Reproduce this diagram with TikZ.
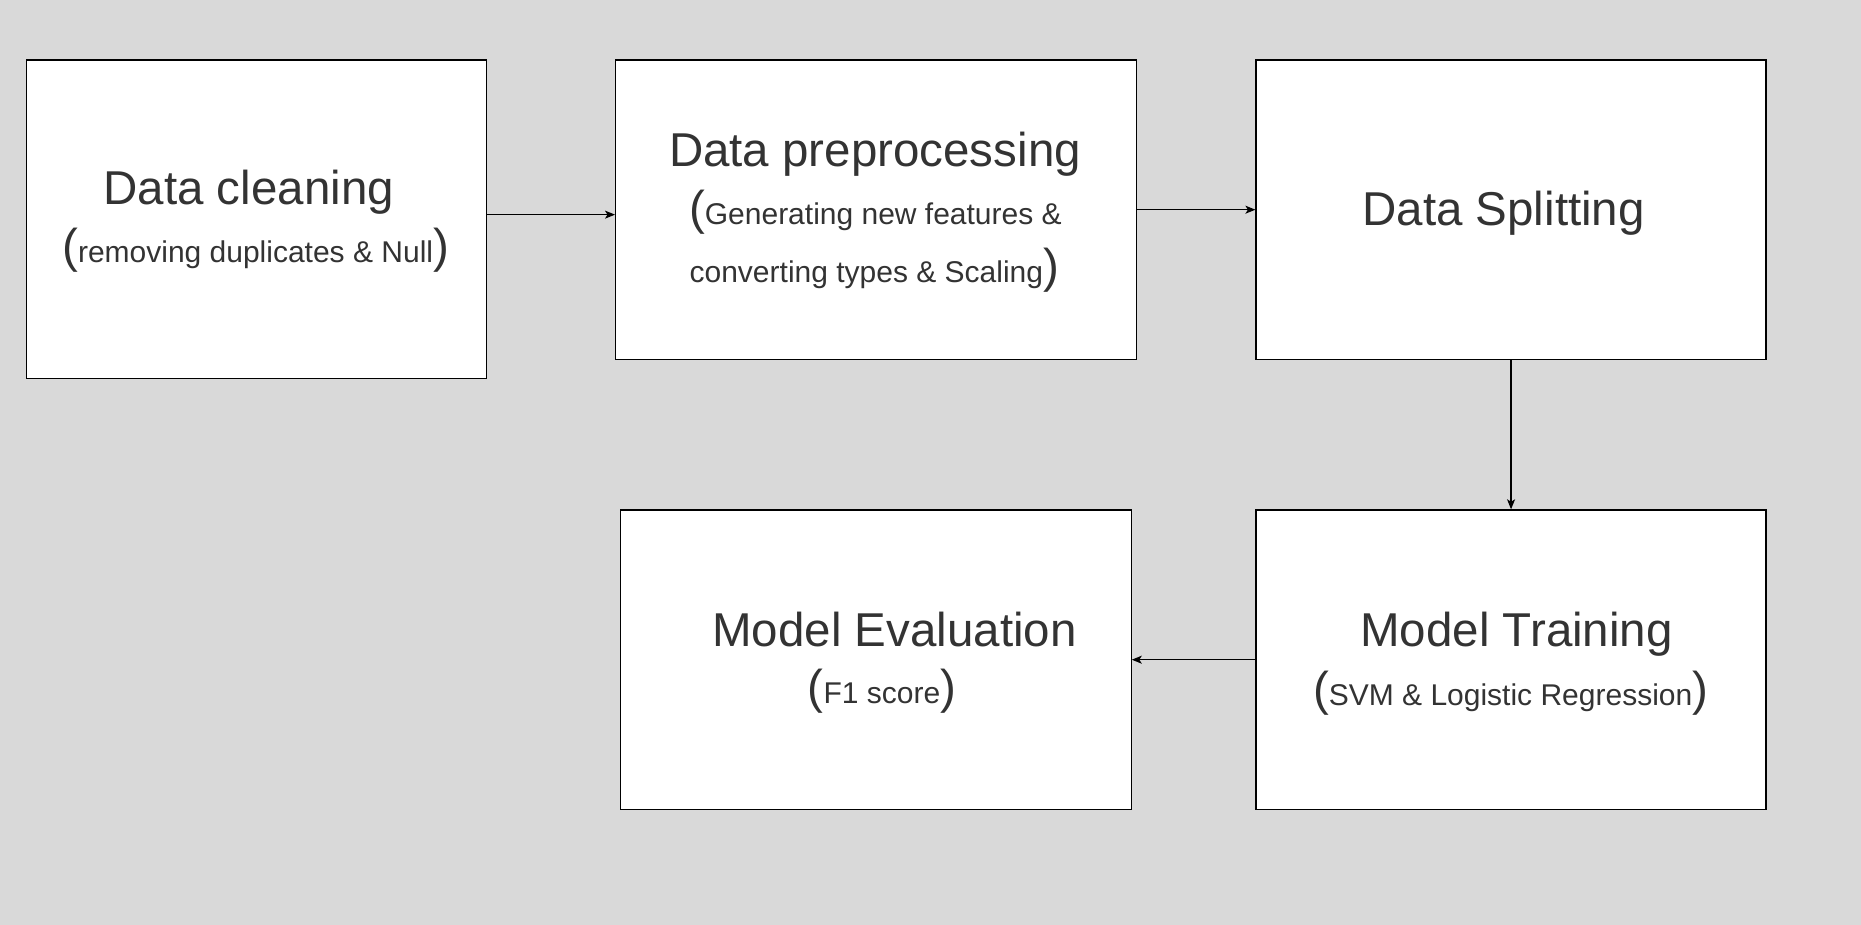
\documentclass[tikz,border=0pt]{standalone}
\usepackage{fontspec}
\setmainfont{Liberation Sans}
\usetikzlibrary{arrows.meta}
\definecolor{bggray}{HTML}{D9D9D9}
\definecolor{txt}{HTML}{333333}
\newcommand{\bigtxt}{\fontsize{47.5}{57}\selectfont}
\newcommand{\smalltxt}{\fontsize{30}{36}\selectfont}
\begin{document}
\begin{tikzpicture}[x=1pt,y=-1pt,
  box/.style={draw=black,fill=white,line width=1.3pt,inner sep=0pt,anchor=north west},
  ttl/.style={anchor=base,inner sep=0pt,text=txt,font=\bigtxt},
  sub/.style={anchor=base,inner sep=0pt,text=txt},
  arr/.style={draw=black,line width=1.3pt,-{Stealth[length=10pt,width=8pt,inset=2.5pt]}}]
\fill[bggray] (0,0) rectangle (1861,925);
\useasboundingbox (0,0) rectangle (1861,925);
% boxes
\node[box,minimum width=460pt,minimum height=318.5pt] (b1) at (25.5,59.5) {};
\node[box,minimum width=520.5pt,minimum height=299.5pt] (b2) at (615,59.3) {};
\node[box,minimum width=510pt,minimum height=299.5pt] (b3) at (1255.4,59.3) {};
\node[box,minimum width=510.5pt,minimum height=299.5pt] (b4) at (620,509.3) {};
\node[box,minimum width=510pt,minimum height=299.5pt] (b5) at (1255.4,509.3) {};
% texts
\node[ttl] (t1) at (248.7,205) {Data cleaning};
\node[sub] (s1) at (255.6,263) {{\bigtxt(}{\smalltxt removing duplicates \& Null}{\bigtxt)}};
\node[ttl] (t2) at (875,167) {Data preprocessing};
\node[sub] (s2a) at (875.4,225) {{\bigtxt(}{\smalltxt Generating new features \&}};
\node[sub] (s2b) at (874.3,283) {{\smalltxt converting types \& Scaling}{\bigtxt)}};
\node[ttl] (t3) at (1503.6,225.7) {Data Splitting};
\node[ttl] (t5) at (1516.6,646) {Model Training};
\node[sub] (s5) at (1510.6,705) {{\bigtxt(}{\smalltxt SVM \& Logistic Regression}{\bigtxt)}};
\node[ttl] (t4) at (894.6,646.7) {Model Evaluation};
\node[sub] (s4) at (882,703) {{\bigtxt(}{\smalltxt F1 score}{\bigtxt)}};
% connectors
\draw[arr] ([yshift=4.75pt]b1.east) -- ([yshift=4.75pt]b1.east -| b2.west);
\draw[arr] (b2.east) -- (b2.east -| b3.west);
\draw[arr] (b3.south) -- (b5.north);
\draw[arr] (b5.west) -- (b5.west -| b4.east);
\end{tikzpicture}
\end{document}
